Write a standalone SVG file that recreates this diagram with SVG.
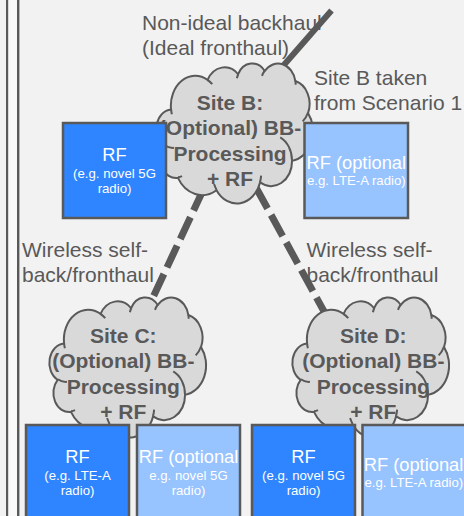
<svg xmlns="http://www.w3.org/2000/svg" xmlns:xlink="http://www.w3.org/1999/xlink" width="464" height="516" viewBox="0 0 464 516">
  <style>
    .label { font-family: "Liberation Sans", Arial, sans-serif; font-size: 21px; fill: #595959; }
    .site { font-family: "Liberation Sans", Arial, sans-serif; font-size: 21px; font-weight: bold; fill: #595959; text-anchor: middle; }
    .cloud { fill: #d9d9d9; stroke: #595959; stroke-width: 2; }
    .crease { fill: none; stroke: #595959; stroke-width: 2; }
    .box { stroke: #595959; stroke-width: 2.5; }
    .dark { fill: #2e85ff; }
    .light { fill: #97c3ff; }
    .rf { font-family: "Liberation Sans", Arial, sans-serif; font-size: 18.3px; fill: #ffffff; text-anchor: middle; }
    .sub { font-family: "Liberation Sans", Arial, sans-serif; font-size: 13.2px; fill: #ffffff; text-anchor: middle; }
    .haul { fill: none; stroke: #595959; }
  </style>
  <defs>
    <!-- cloud outline, 156 x 140 local box -->
    <g id="cloud-shape">
      <path class="cloud" d="M14.08 46.57 A24.39 29.78 0 0 1 50.58 16.86 A19.26 23.55 0 0 1 81.09 11.12 A15.76 19.27 0 0 1 107.74 8.03 A17.54 21.37 0 0 1 138.37 18.07 A19.26 23.57 0 0 1 151.02 50.10 A24.47 29.88 0 0 1 135.07 97.87 A20.89 25.49 0 0 1 103.12 119.29 A24.38 29.86 0 0 1 59.52 127.24 A27.88 34.17 0 0 1 20.96 114.95 A15.74 19.18 0 0 1 7.63 82.80 A15.69 19.27 0 0 1 14.08 46.57 Z"/>
      <path class="crease" d="M16.95 84.83 A15.69 19.27 0 0 1 7.80 82.25 M25.02 113.10 A15.74 19.18 0 0 1 21.01 114.33 M59.50 126.68 A24.38 29.86 0 0 1 57.09 121.04 M104.10 112.62 A24.38 29.86 0 0 1 103.13 118.81 M123.24 74.39 A20.89 25.49 0 0 1 134.98 97.51 M150.94 49.76 A19.26 23.57 0 0 1 145.70 58.43 M138.39 17.58 A17.54 21.37 0 0 1 138.67 21.68 M105.00 12.81 A17.54 21.37 0 0 1 107.69 7.57 M79.95 15.30 A15.76 19.27 0 0 1 81.25 10.79 M50.56 16.83 A24.39 29.78 0 0 1 55.25 21.19 M14.90 51.17 A24.39 29.78 0 0 1 14.08 46.57"/>
    </g>
  </defs>

  <!-- page background and left rules -->
  <rect x="0" y="0" width="464" height="516" fill="#f2f2f2"/>
  <rect x="8" y="0" width="9" height="516" fill="#f9f9f9"/>
  <rect x="6" y="0" width="2.2" height="516" fill="#595959"/>
  <rect x="17" y="0" width="2.4" height="516" fill="#595959"/>

  <!-- free labels -->
  <g id="labels">
    <text class="label" x="142" y="29.5">Non-ideal backhaul</text>
    <text class="label" x="142" y="54.5">(Ideal fronthaul)</text>
    <text class="label" x="314" y="84.5">Site B taken</text>
    <text class="label" x="314" y="110">from Scenario 1</text>
    <text class="label" x="22" y="256.5">Wireless self-</text>
    <text class="label" x="22" y="282">back/fronthaul</text>
    <text class="label" x="306.5" y="256.5">Wireless self-</text>
    <text class="label" x="306.5" y="282">back/fronthaul</text>
  </g>

  <!-- connectors -->
  <g id="connectors">
    <line id="backhaul" class="haul" x1="331.5" y1="10.5" x2="276" y2="74" stroke-width="6"/>
    <line id="b-to-c" class="haul" x1="203.7" y1="188.7" x2="151" y2="301.7" stroke-width="7" stroke-dasharray="24 7.4"/>
    <line id="b-to-d" class="haul" x1="256" y1="187.5" x2="326" y2="315" stroke-width="7" stroke-dasharray="24 7.4"/>
  </g>

  <!-- site clouds -->
  <g id="site-b">
    <use xlink:href="#cloud-shape" transform="translate(157,63)"/>
    <text class="site" x="230" y="109.5">Site B:</text>
    <text class="site" x="230" y="135">(Optional) BB-</text>
    <text class="site" x="230" y="160.5">Processing</text>
    <text class="site" x="230" y="186">+ RF</text>
  </g>
  <g id="site-c">
    <use xlink:href="#cloud-shape" transform="translate(50,297)"/>
    <text class="site" x="123.3" y="342.5">Site C:</text>
    <text class="site" x="123.3" y="368">(Optional) BB-</text>
    <text class="site" x="123.3" y="393.5">Processing</text>
    <text class="site" x="123.3" y="419">+ RF</text>
  </g>
  <g id="site-d">
    <use xlink:href="#cloud-shape" transform="translate(293,297)"/>
    <text class="site" x="373.3" y="342.5">Site D:</text>
    <text class="site" x="373.3" y="368">(Optional) BB-</text>
    <text class="site" x="373.3" y="393.5">Processing</text>
    <text class="site" x="373.3" y="419">+ RF</text>
  </g>

  <!-- radio units -->
  <g id="rf-b1">
    <rect class="box dark" x="63" y="123" width="103" height="95"/>
    <text class="rf" x="114.5" y="161.3">RF</text>
    <text class="sub" x="114.5" y="177.5">(e.g. novel 5G</text>
    <text class="sub" x="114.5" y="193">radio)</text>
  </g>
  <g id="rf-b2">
    <rect class="box light" x="304.5" y="123" width="103.5" height="95"/>
    <text class="rf" x="356.3" y="169">RF (optional</text>
    <text class="sub" x="356.3" y="184.5">e.g. LTE-A radio)</text>
  </g>
  <g id="rf-c1">
    <rect class="box dark" x="26" y="425" width="103" height="100"/>
    <text class="rf" x="77.5" y="463.3">RF</text>
    <text class="sub" x="77.5" y="480">(e.g. LTE-A</text>
    <text class="sub" x="77.5" y="495">radio)</text>
  </g>
  <g id="rf-c2">
    <rect class="box light" x="137" y="425" width="103" height="100"/>
    <text class="rf" x="188.5" y="463.3">RF (optional</text>
    <text class="sub" x="188.5" y="480">e.g. novel 5G</text>
    <text class="sub" x="188.5" y="495">radio)</text>
  </g>
  <g id="rf-d1">
    <rect class="box dark" x="252" y="425" width="103" height="100"/>
    <text class="rf" x="303.5" y="463.3">RF</text>
    <text class="sub" x="303.5" y="480">(e.g. novel 5G</text>
    <text class="sub" x="303.5" y="495">radio)</text>
  </g>
  <g id="rf-d2">
    <rect class="box light" x="362.5" y="425" width="103" height="100"/>
    <text class="rf" x="413.5" y="471">RF (optional</text>
    <text class="sub" x="413.8" y="486.5">e.g. LTE-A radio)</text>
  </g>
</svg>
